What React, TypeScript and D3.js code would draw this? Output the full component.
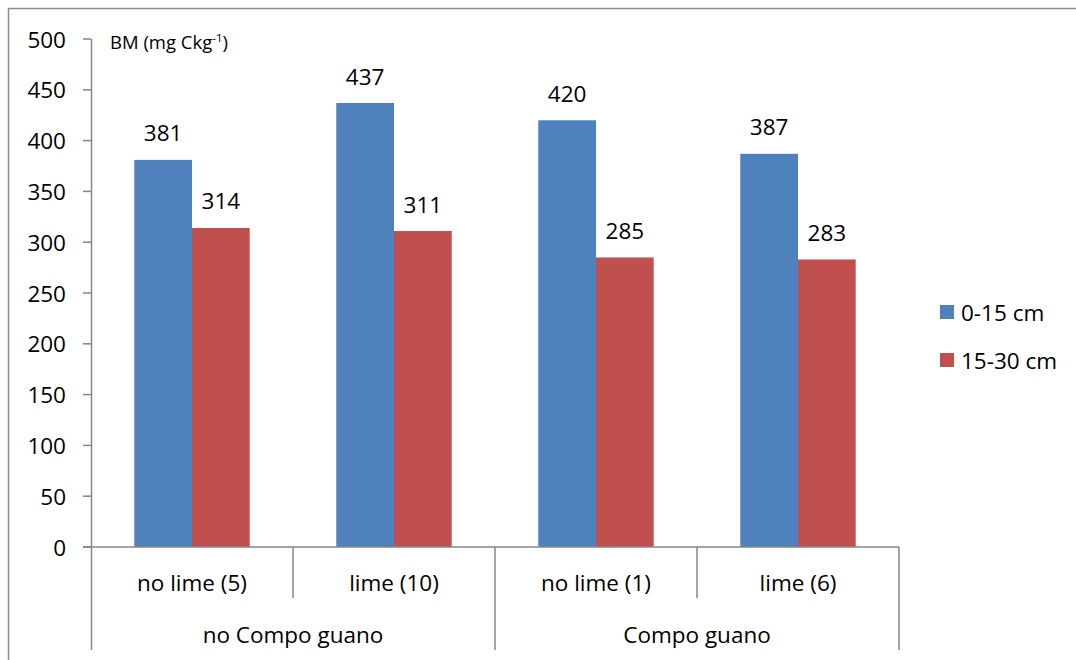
import React from "react";
import * as d3 from "d3";

const groups = ["no Compo guano", "Compo guano"];
const categories = ["no lime (5)", "lime (10)", "no lime (1)", "lime (6)"];
const categoryGroup = [0, 0, 1, 1];
const seriesNames = ["0-15 cm", "15-30 cm"];
const series0 = [381, 437, 420, 387];
const series1 = [314, 311, 285, 283];
const yTicks = [0, 50, 100, 150, 200, 250, 300, 350, 400, 450, 500];
const colors = ["#4F81BD", "#C0504D"];

const W = 1076;
const H = 660;
const font = "'Open Sans', 'Noto Sans', sans-serif";
const fs = 22.5;

export default function App() {
  const left = 91, right = 899, top = 39, bottom = 547;
  const y = d3.scaleLinear().domain([0, 500]).range([bottom, top]);
  const x = d3.scaleBand<string>().domain(categories).range([left, right]).paddingInner(0).paddingOuter(0);
  const inner = d3.scaleBand<number>().domain([0, 1]).range([0, x.bandwidth()]).paddingInner(0).paddingOuter(0.75);
  const series = [series0, series1];
  const axisColor = "#868686";

  const groupBounds = groups.map((g, gi) => {
    const cats = categories.filter((_, i) => categoryGroup[i] === gi);
    const x0 = x(cats[0])!;
    const x1 = x(cats[cats.length - 1])! + x.bandwidth();
    return { g, x0, x1 };
  });

  return (
    <svg width={W} height={H} style={{ position: "absolute", left: 0, top: 0 }}>
      <rect x={0} y={0} width={W} height={H} fill="#fff" />
      <rect x={8.5} y={8.5} width={W + 20} height={H + 20} fill="none" stroke="#8c8c8c" strokeWidth={1.5} />
      {/* y axis */}
      <line x1={left + 0.5} x2={left + 0.5} y1={top} y2={650} stroke={axisColor} strokeWidth={1.5} />
      {yTicks.map((t) => (
        <g key={t}>
          <line x1={left - 8} x2={left} y1={y(t)} y2={y(t)} stroke={axisColor} strokeWidth={1.5} />
          <text x={66} y={y(t)} textAnchor="end" dominantBaseline="central" fontFamily={font} fontSize={fs} fill="#000">
            {t}
          </text>
        </g>
      ))}
      <text x={110} y={49} fontFamily={font} fontSize={18.5} fill="#000">
        BM (mg Ckg
        <tspan fontSize={11.5} dy={-7}>-1</tspan>
        <tspan dy={7}>)</tspan>
      </text>
      {/* bars */}
      {categories.map((c, i) =>
        series.map((s, si) => {
          const bx = x(c)! + inner(si)!;
          const bw = inner.bandwidth();
          return (
            <g key={c + si}>
              <rect x={bx} y={y(s[i])} width={bw} height={bottom - y(s[i])} fill={colors[si]} />
              <text x={bx + bw / 2} y={y(s[i]) - 27} textAnchor="middle" dominantBaseline="central" fontFamily={font} fontSize={fs} fill="#000">
                {s[i]}
              </text>
            </g>
          );
        })
      )}
      {/* x axis */}
      <line x1={left - 8} x2={right} y1={bottom} y2={bottom} stroke={axisColor} strokeWidth={1.5} />
      {categories.map((c, i) => {
        const isGroupEnd = i === categories.length - 1 || categoryGroup[i] !== categoryGroup[i + 1];
        const xe = x(c)! + x.bandwidth();
        return (
          <g key={c}>
            <line x1={xe} x2={xe} y1={bottom} y2={isGroupEnd ? 650 : 598} stroke={axisColor} strokeWidth={1.5} />
            <text x={x(c)! + x.bandwidth() / 2} y={582} textAnchor="middle" dominantBaseline="central" fontFamily={font} fontSize={fs} fill="#000">
              {c}
            </text>
          </g>
        );
      })}
      {groupBounds.map((gb) => (
        <text key={gb.g} x={(gb.x0 + gb.x1) / 2} y={634} textAnchor="middle" dominantBaseline="central" fontFamily={font} fontSize={fs} fill="#000">
          {gb.g}
        </text>
      ))}
      {/* legend */}
      {seriesNames.map((n, i) => (
        <g key={n}>
          <rect x={940} y={305 + i * 48} width={14} height={14} fill={colors[i]} />
          <text x={961} y={312 + i * 48} dominantBaseline="central" fontFamily={font} fontSize={fs} fill="#000">
            {n}
          </text>
        </g>
      ))}
    </svg>
  );
}
